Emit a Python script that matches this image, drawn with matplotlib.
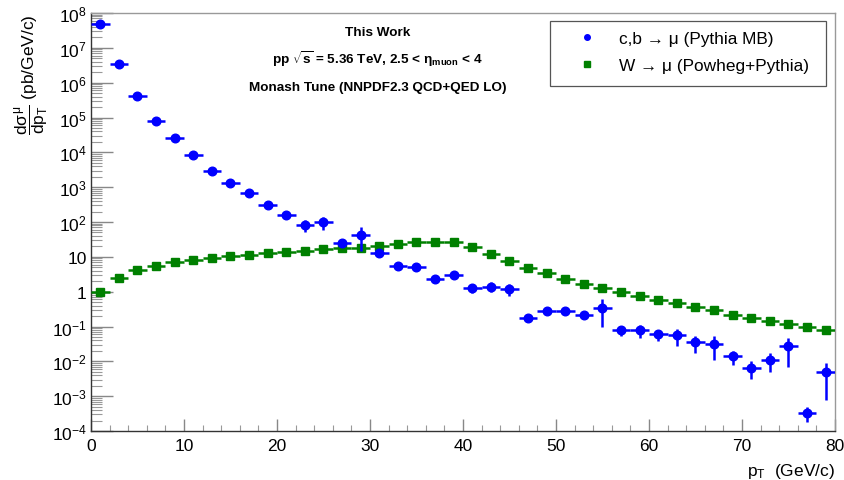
import numpy as np
import matplotlib
matplotlib.use("Agg")
import matplotlib.pyplot as plt
from matplotlib.ticker import FixedLocator, FixedFormatter, LogLocator, MultipleLocator, NullFormatter
from matplotlib.lines import Line2D
from matplotlib.patches import Rectangle

plt.rcParams['font.family'] = ['Liberation Sans', 'DejaVu Sans']
plt.rcParams['mathtext.fontset'] = 'custom'
plt.rcParams['mathtext.rm'] = 'Liberation Sans'
plt.rcParams['mathtext.it'] = 'Liberation Sans'
plt.rcParams['mathtext.bf'] = 'Liberation Sans:bold'
plt.rcParams['mathtext.sf'] = 'Liberation Sans'

# ---- data ----
pt_centers = np.arange(1, 80, 2)
bin_half_width = 1.0

hf_values = [4.8e7, 3.5e6, 4.1e5, 8.0e4, 2.6e4, 8.3e3, 2.9e3, 1.3e3, 680, 310,
             158, 82, 98, 25, 43, 13, 5.3, 5.0, 2.3, 3.0,
             1.3, 1.4, 1.2, 0.18, 0.28, 0.28, 0.22, 0.35, 0.078, 0.078,
             0.060, 0.056, 0.035, 0.032, 0.014, 0.0066, 0.011, 0.027, 3.3e-4, 0.0049]
hf_errors = [1.0e6, 1.0e5, 1.5e4, 3.0e3, 1.5e3, 600, 250, 150, 90, 60,
             40, 30, 40, 6, 28, 3, 1.0, 1.0, 0.4, 0.5,
             0.4, 0.45, 0.45, 0.02, 0.03, 0.03, 0.04, 0.25, 0.025, 0.03,
             0.022, 0.028, 0.018, 0.021, 0.006, 0.0035, 0.006, 0.02, 1.5e-4, 0.0041]

w_values = [1.0, 2.5, 4.1, 5.6, 6.9, 8.1, 9.3, 10.5, 11.2, 12.9,
            13.8, 14.8, 16.6, 17.6, 18.2, 20.9, 23.0, 25.9, 27.0, 26.0,
            19.0, 12.0, 7.4, 4.8, 3.4, 2.3, 1.66, 1.26, 0.96, 0.74,
            0.57, 0.47, 0.36, 0.29, 0.22, 0.18, 0.147, 0.117, 0.098, 0.081]

y_tick_values = [1e-4, 1e-3, 1e-2, 1e-1, 1, 10, 1e2, 1e3, 1e4, 1e5, 1e6, 1e7, 1e8]
y_tick_labels = [r'$10^{-4}$', r'$10^{-3}$', r'$10^{-2}$', r'$10^{-1}$', '1', '10',
                 r'$10^{2}$', r'$10^{3}$', r'$10^{4}$', r'$10^{5}$', r'$10^{6}$',
                 r'$10^{7}$', r'$10^{8}$']
x_tick_values = [0, 10, 20, 30, 40, 50, 60, 70, 80]

hf_label = 'c,b → μ (Pythia MB)'
w_label = 'W → μ (Powheg+Pythia)'

# ---- figure ----
W, H = 845, 481
fig = plt.figure(figsize=(W / 100, H / 100), dpi=100)
ax = fig.add_axes([91 / W, 1 - 432 / H, (835 - 91) / W, (432 - 14) / H])

ax.errorbar(pt_centers, w_values, xerr=bin_half_width, fmt='s', color='#008000',
            markersize=5.5, elinewidth=1.8, capsize=0, zorder=3)
ax.errorbar(pt_centers, hf_values, xerr=bin_half_width, yerr=hf_errors, fmt='o',
            color='#0000ff', markersize=6.2, elinewidth=1.8, capsize=0, zorder=4)

ax.set_yscale('log')
ax.set_xlim(0, 80)
ax.set_ylim(1e-4, 1e8)

ax.yaxis.set_major_locator(FixedLocator(y_tick_values))
ax.yaxis.set_major_formatter(FixedFormatter(y_tick_labels))
ax.yaxis.set_minor_locator(LogLocator(base=10, subs=np.arange(2, 10), numticks=200))
ax.yaxis.set_minor_formatter(NullFormatter())
ax.xaxis.set_major_locator(FixedLocator(x_tick_values))
ax.xaxis.set_minor_locator(MultipleLocator(2))

ax.tick_params(axis='y', which='major', direction='in', length=16, width=1.0,
               color='#888888', labelsize=12.5, pad=3, right=False)
ax.tick_params(axis='y', which='minor', direction='in', length=8, width=0.8,
               color='#999999', right=False)
ax.tick_params(axis='x', which='major', direction='in', length=8.5, width=1.0,
               color='#888888', labelsize=12.5, pad=5, top=False)
ax.tick_params(axis='x', which='minor', direction='in', length=4, width=0.8,
               color='#999999', top=False)

for s in ['left', 'bottom']:
    ax.spines[s].set_color('#333333')
    ax.spines[s].set_linewidth(1.0)
for s in ['top', 'right']:
    ax.spines[s].set_color('#999999')
    ax.spines[s].set_linewidth(1.0)

ax.set_xlabel(r'$p_{T}$  (GeV/c)', fontsize=12.5, loc='right', labelpad=6)
ax.set_ylabel(r'$\dfrac{d\sigma^{\mu}}{dp_{T}}$ (pb/GeV/c)', fontsize=12.5, loc='top')
ax.yaxis.set_label_coords(-0.079, 1.0)
ax.yaxis.label.set_verticalalignment('center')

ann_x = 0.385
ax.text(ann_x, 0.9545, 'This Work', transform=ax.transAxes, ha='center', va='center',
        fontsize=9.7, fontweight='bold')
ax.text(ann_x, 0.892, r'pp $\sqrt{\mathbf{s}}$ = 5.36 TeV, 2.5 < η$_{\mathbf{muon}}$ < 4',
        transform=ax.transAxes, ha='center', va='center', fontsize=9.7, fontweight='bold')
ax.text(ann_x, 0.823, 'Monash Tune (NNPDF2.3 QCD+QED LO)', transform=ax.transAxes,
        ha='center', va='center', fontsize=9.7, fontweight='bold')

# legend
h_hf = Line2D([], [], marker='o', color='#0000ff', linestyle='none', markersize=4)
h_w = Line2D([], [], marker='s', color='#008000', linestyle='none', markersize=4)
leg_left, leg_top, leg_right, leg_bottom = 550, 22.3, 826, 86.7
leg = fig.legend([h_hf, h_w], [hf_label, w_label], loc='upper left',
                 bbox_to_anchor=(leg_left / W, 1 - (leg_top + 1.5) / H), fontsize=12.4,
                 frameon=False, borderpad=0.45, labelspacing=0.69,
                 handletextpad=0.19, borderaxespad=0.0, handlelength=3.37)
fig.patches.append(Rectangle((leg_left / W, 1 - leg_bottom / H),
                             (leg_right - leg_left) / W, (leg_bottom - leg_top) / H,
                             transform=fig.transFigure, fill=True, facecolor='white',
                             edgecolor='#555555', linewidth=0.9, zorder=1))

fig.savefig('out.png', dpi=100)
